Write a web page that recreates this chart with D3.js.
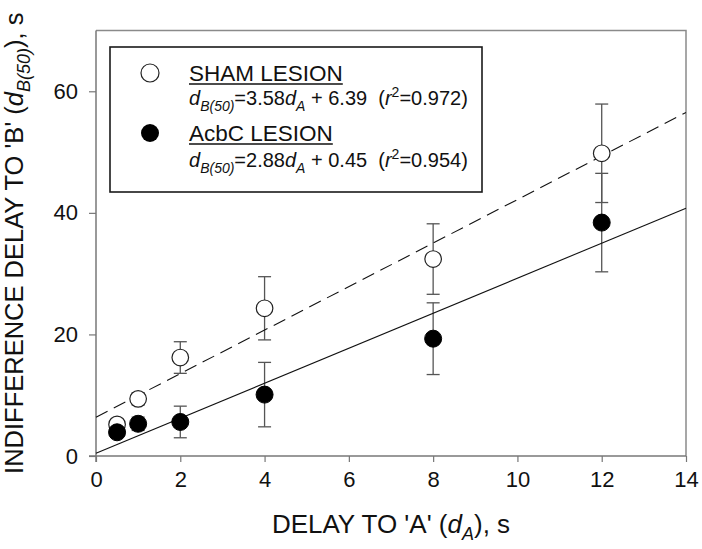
<!DOCTYPE html>
<html>
<head>
<meta charset="utf-8">
<script src="https://cdn.jsdelivr.net/npm/d3@7"></script>
<style>
  body { margin: 0; background: #fff; }
  svg { font-family: "Liberation Sans", Arial, sans-serif; }
</style>
</head>
<body>
<svg id="chart" width="702" height="549"></svg>
<script>
// Data
const delays = [0.5, 1, 2, 4, 8, 12];
const shamMeans = [5.2, 9.4, 16.2, 24.3, 32.4, 49.8];
const shamErr = [0.5, 1.0, 2.6, 5.2, 5.8, 8.1];
const acbcMeans = [3.9, 5.3, 5.6, 10.1, 19.3, 38.4];
const acbcErr = [0.5, 1.1, 2.6, 5.3, 5.9, 8.1];
// regression fits: [slope, intercept]
const shamFit = [3.58, 6.39];
const acbcFit = [2.88, 0.45];
const xTicks = [0, 2, 4, 6, 8, 10, 12, 14];
const yTicks = [0, 20, 40, 60];

const svg = d3.select('#chart');

const x = d3.scaleLinear().domain([0, 14]).range([96, 686]);
const y = d3.scaleLinear().domain([0, 70]).range([456, 30.5]);

// plot frame (top + right)
svg.append('path')
  .attr('d', `M${x(0)},${y(70)}H${x(14)}V${y(0)}`)
  .attr('fill', 'none')
  .attr('stroke', '#8a8a8a')
  .attr('stroke-width', 1.5);

// axes
const xAxis = svg.append('g')
  .attr('transform', `translate(0,${y(0)})`)
  .call(d3.axisBottom(x).tickValues(xTicks).tickSize(6).tickPadding(9).tickSizeOuter(0));
const yAxis = svg.append('g')
  .attr('transform', `translate(${x(0)},0)`)
  .call(d3.axisLeft(y).tickValues(yTicks).tickSize(7).tickPadding(11).tickSizeOuter(0));

[xAxis, yAxis].forEach(function(g) {
  g.select('.domain').attr('stroke', '#777').attr('stroke-width', 1.5);
  g.selectAll('.tick line').attr('stroke', '#777').attr('stroke-width', 1.2);
  g.selectAll('.tick text')
    .attr('fill', '#111')
    .style('font-size', '22px')
    .style('font-family', '"Liberation Sans", Arial, sans-serif');
});
// extend domain lines a bit past the origin like the original
xAxis.select('.domain').attr('d', `M${x(0) - 7},0H${x(14)}`);
yAxis.select('.domain').attr('d', `M0,${y(0) + 6}V${y(70)}`);

// error bars
function errorBars(means, errs) {
  const g = svg.append('g')
    .attr('stroke', '#555')
    .attr('stroke-width', 1.3)
    .attr('fill', 'none');
  delays.forEach(function(d, i) {
    const cx = x(d);
    const top = y(means[i] + errs[i]);
    const bot = y(means[i] - errs[i]);
    g.append('line').attr('x1', cx).attr('x2', cx).attr('y1', top).attr('y2', bot);
    g.append('line').attr('x1', cx - 6.5).attr('x2', cx + 6.5).attr('y1', top).attr('y2', top);
    g.append('line').attr('x1', cx - 6.5).attr('x2', cx + 6.5).attr('y1', bot).attr('y2', bot);
  });
}
errorBars(shamMeans, shamErr);
errorBars(acbcMeans, acbcErr);

// regression lines
const fitLine = d3.line()
  .x(function(d) { return x(d[0]); })
  .y(function(d) { return y(d[1]); });

function fitPoints(fit) {
  return [0, 14].map(function(v) { return [v, fit[0] * v + fit[1]]; });
}

svg.append('path')
  .attr('d', fitLine(fitPoints(shamFit)))
  .attr('fill', 'none')
  .attr('stroke', '#111')
  .attr('stroke-width', 1.1)
  .attr('stroke-dasharray', '13,7');

svg.append('path')
  .attr('d', fitLine(fitPoints(acbcFit)))
  .attr('fill', 'none')
  .attr('stroke', '#111')
  .attr('stroke-width', 1.1);

// points
svg.append('g').selectAll('circle')
  .data(delays)
  .enter()
  .append('circle')
  .attr('cx', function(d) { return x(d); })
  .attr('cy', function(d, i) { return y(shamMeans[i]); })
  .attr('r', 8.3)
  .attr('fill', '#fff')
  .attr('stroke', '#222')
  .attr('stroke-width', 1.2);

svg.append('g').selectAll('circle')
  .data(delays)
  .enter()
  .append('circle')
  .attr('cx', function(d) { return x(d); })
  .attr('cy', function(d, i) { return y(acbcMeans[i]); })
  .attr('r', 8.5)
  .attr('fill', '#000')
  .attr('stroke', '#000')
  .attr('stroke-width', 1);

// legend
const legend = svg.append('g');
legend.append('rect')
  .attr('x', 110).attr('y', 47)
  .attr('width', 372).attr('height', 145)
  .attr('fill', '#fff')
  .attr('stroke', '#1a1a1a')
  .attr('stroke-width', 1.6);

legend.append('circle').attr('cx', 150).attr('cy', 73).attr('r', 9)
  .attr('fill', '#fff').attr('stroke', '#222').attr('stroke-width', 1.2);
legend.append('circle').attr('cx', 150).attr('cy', 133).attr('r', 9)
  .attr('fill', '#000');

function title(text, yy) {
  const t = legend.append('text')
    .attr('x', 189).attr('y', yy)
    .style('font-size', '22.5px')
    .attr('fill', '#111')
    .text(text);
  const w = t.node().getComputedTextLength();
  legend.append('line')
    .attr('x1', 189).attr('x2', 189 + w)
    .attr('y1', yy + 3).attr('y2', yy + 3)
    .attr('stroke', '#111').attr('stroke-width', 1.5);
}
title('SHAM LESION', 81);
title('AcbC LESION', 141);

function equation(fit, r2, yy) {
  const t = legend.append('text')
    .attr('x', 189).attr('y', yy)
    .style('font-size', '20px')
    .style('white-space', 'pre')
    .attr('fill', '#111');
  t.append('tspan').style('font-style', 'italic').text('d');
  t.append('tspan').attr('dy', 6).style('font-style', 'italic').style('font-size', '14px').text('B(50)');
  t.append('tspan').attr('dy', -6).text('=' + fit[0].toFixed(2));
  t.append('tspan').style('font-style', 'italic').text('d');
  t.append('tspan').attr('dy', 6).style('font-style', 'italic').style('font-size', '14px').text('A');
  t.append('tspan').attr('dy', -6).text(' + ' + fit[1].toFixed(2) + '  (');
  t.append('tspan').style('font-style', 'italic').text('r');
  t.append('tspan').attr('dy', -8).style('font-size', '14px').text('2');
  t.append('tspan').attr('dy', 8).text('=' + r2.toFixed(3) + ')');
}
equation(shamFit, 0.972, 105);
equation(acbcFit, 0.954, 167);

// axis titles
const xt = svg.append('text')
  .attr('x', (x(0) + x(14)) / 2)
  .attr('y', 533)
  .attr('text-anchor', 'middle')
  .style('font-size', '26px')
  .attr('fill', '#111');
xt.append('tspan').text("DELAY TO 'A' (");
xt.append('tspan').style('font-style', 'italic').text('d');
xt.append('tspan').attr('dy', 7).style('font-style', 'italic').style('font-size', '18px').text('A');
xt.append('tspan').attr('dy', -7).text('), s');

const yt = svg.append('text')
  .attr('transform', `translate(23,${(y(0) + y(70)) / 2}) rotate(-90)`)
  .attr('text-anchor', 'middle')
  .style('font-size', '25.5px')
  .attr('fill', '#111');
yt.append('tspan').text("INDIFFERENCE DELAY TO 'B' (");
yt.append('tspan').style('font-style', 'italic').text('d');
yt.append('tspan').attr('dy', 7).style('font-style', 'italic').style('font-size', '18px').text('B(50)');
yt.append('tspan').attr('dy', -7).text('), s');
</script>
</body>
</html>
